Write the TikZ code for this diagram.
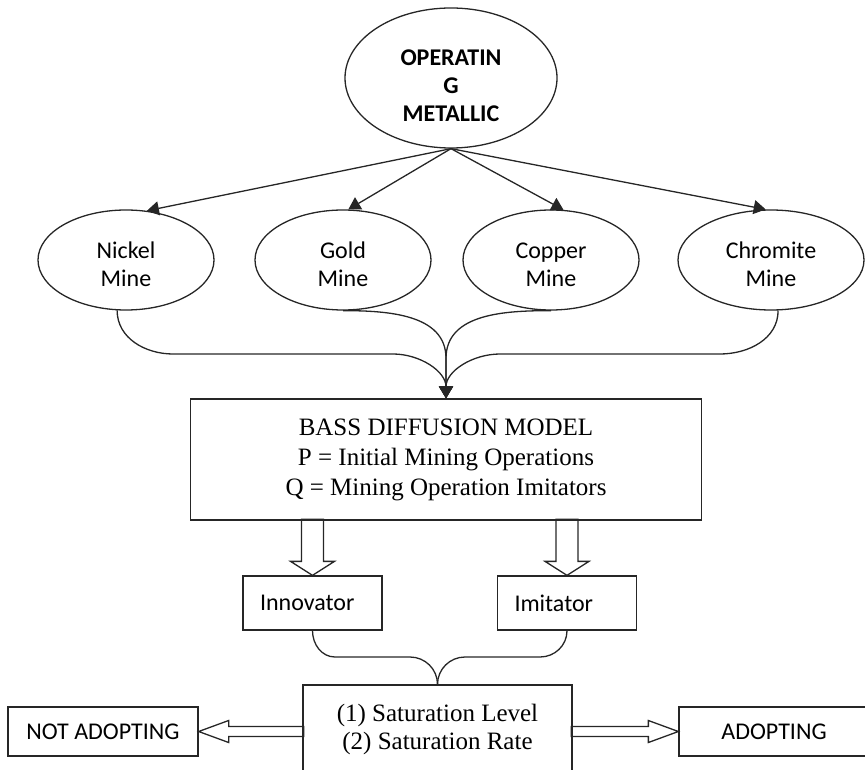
\documentclass[tikz,border=0pt]{standalone}
\usepackage{fontspec}
\setmainfont{Liberation Serif}
\newfontfamily\calibri{Carlito}
\usetikzlibrary{arrows.meta,shapes.geometric}

\begin{document}
\begin{tikzpicture}[x=0.5pt, y=-0.5pt, line width=0.65pt, draw=black!85,
  oval/.style={draw, ellipse, inner sep=0pt, align=center, font=\calibri\fontsize{12}{14}\selectfont},
  mine/.style={oval, minimum width=88pt, minimum height=50pt},
  box/.style={draw, rectangle, inner sep=0pt, align=center, font=\fontsize{12.5}{15}\selectfont},
  tag/.style={draw, rectangle, inner sep=0pt, align=center, minimum width=95pt, minimum height=24.5pt, font=\calibri\fontsize{12}{14}\selectfont},
  who/.style={draw, rectangle, inner xsep=8.5pt, inner ysep=0pt, text width=52.5pt, align=left, minimum height=27pt, font=\calibri\fontsize{12}{14}\selectfont},
  tip/.style={-{Triangle[length=6pt,width=7pt]}}]
\useasboundingbox (0,0) rectangle (865,769);
\clip (0,0) rectangle (865,769);

\node[oval, minimum width=106pt, minimum height=70pt, font=\calibri\bfseries\fontsize{12}{14}\selectfont] (metal) at (451,78) {\rule{0pt}{15.5pt}OPERATIN\\G\\METALLIC};

\node[mine] (nickel) at (126,260) {\rule{0pt}{12.5pt}Nickel\\Mine};
\node[mine] (gold) at (343,260) {\rule{0pt}{12.5pt}Gold\\Mine};
\node[mine] (copper) at (551,260) {\rule{0pt}{12.5pt}Copper\\Mine};
\node[mine, minimum width=93pt] (chromite) at (771,260) {\rule{0pt}{12.5pt}Chromite\\Mine};

\draw[tip] (metal.south) -- (nickel.67);
\draw[tip] (metal.south) -- (gold.84);
\draw[tip] (metal.south) -- (copper.76);
\draw[tip] (metal.south) -- (chromite.96);

\node[box, minimum width=255.5pt, minimum height=60.5pt] (bass) at (446,459.5)
  {BASS DIFFUSION MODEL\\P = Initial Mining Operations\\Q = Mining Operation Imitators};

% mines into the model
\draw[tip] (nickel.260) to[out=-90, in=180] (173,354) -- (393,354) to[out=0, in=90] (bass.north);
\draw[tip] (gold.south) to[out=0, in=90] ([yshift=20pt]bass.north) -- (bass.north);
\draw[tip] (copper.south) to[out=180, in=90] ([yshift=20pt]bass.north) -- (bass.north);
\draw[tip] (chromite.278) to[out=-90, in=0] (720,354) -- (500,354) to[out=180, in=90] (bass.north);

\node[who] (innov) at (312.5,603) {Innovator};
\node[who] (imit) at (567,603) {Imitator};

% hollow arrows down
\draw (innov.north) -- ++(-22,-14) -- ++(11,0) -- ++(0,-42) -- ++(22,0) -- ++(0,42) -- ++(11,0) -- cycle;
\draw (imit.north) -- ++(-22,-14) -- ++(11,0) -- ++(0,-42) -- ++(22,0) -- ++(0,42) -- ++(11,0) -- cycle;

\node[box, minimum width=134.5pt, minimum height=44pt, font=\fontsize{12.5}{14}\selectfont] (sat) at (437.5,729)
  {(1) Saturation Level\\(2) Saturation Rate};

\draw (innov.south) to[out=-90, in=180] (335,657) -- (410,657) to[out=0, in=90] (sat.north);
\draw (imit.south) to[out=-90, in=0] (540,657) -- (465,657) to[out=180, in=90] (sat.north);

\node[tag] (notad) at (103,731.5) {NOT ADOPTING};
\node[tag] (adopt) at (774,731.5) {ADOPTING};

% hollow arrows sideways
\draw (notad.east) -- ++(30,-11) -- ++(0,6) -- ++(75,0) -- ++(0,10) -- ++(-75,0) -- ++(0,6) -- cycle;
\draw (adopt.west) -- ++(-30,-11) -- ++(0,6) -- ++(-77,0) -- ++(0,10) -- ++(77,0) -- ++(0,6) -- cycle;
\end{tikzpicture}
\end{document}
